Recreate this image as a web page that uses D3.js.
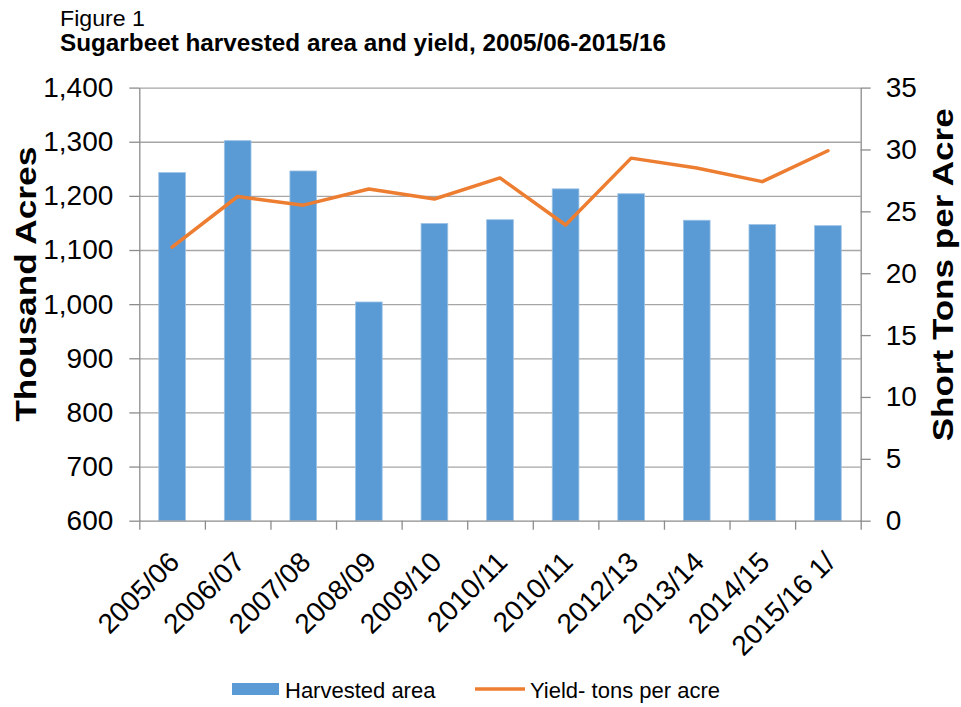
<!DOCTYPE html>
<html>
<head>
<meta charset="utf-8">
<script src="https://cdn.jsdelivr.net/npm/d3@7"></script>
<style>
  html, body { margin: 0; padding: 0; background: #fff; }
  svg { display: block; font-family: "Liberation Sans", Arial, sans-serif; }
</style>
</head>
<body>
<svg id="chart" width="961" height="707"></svg>
<script>
// ---- data ----
const categories = ["2005/06","2006/07","2007/08","2008/09","2009/10","2010/11","2010/11","2012/13","2013/14","2014/15","2015/16 1/"];
const harvestedArea = [1243, 1302, 1246, 1004, 1149, 1156, 1213, 1204, 1155, 1147, 1145];
const yieldTons = [22.1, 26.2, 25.5, 26.8, 26.0, 27.7, 23.9, 29.3, 28.5, 27.4, 29.9];
const leftTicks = [600, 700, 800, 900, 1000, 1100, 1200, 1300, 1400];
const rightTicks = [0, 5, 10, 15, 20, 25, 30, 35];
const figureLabel = "Figure 1";
const chartTitle = "Sugarbeet harvested area and yield, 2005/06-2015/16";
const leftTitle = "Thousand Acres";
const rightTitle = "Short Tons per Acre";
const seriesNames = ["Harvested area", "Yield- tons per acre"];

// ---- layout ----
const plot = { left: 139.3, right: 860.7, top: 87.6, bottom: 520.7 };
const barColor = "#5B9BD5", lineColor = "#ED7D31";
const gridColor = "#A6A6A6", axisColor = "#8C8C8C";
const tickFont = 28;

const svg = d3.select("#chart");

const n = categories.length;
const x = d3.scaleBand().domain(d3.range(n)).range([plot.left, plot.right]).padding(0);
const xEdges = d3.scaleLinear().domain([0, n]).range([plot.left, plot.right]);
const yL = d3.scaleLinear().domain([600, 1400]).range([plot.bottom, plot.top]);
const yR = d3.scaleLinear().domain([0, 35]).range([plot.bottom, plot.top]);
const barW = x.bandwidth() * 0.407;

// gridlines
svg.append("g")
  .attr("transform", `translate(${plot.left},0)`)
  .call(d3.axisLeft(yL).tickValues(leftTicks.slice(1)).tickSize(-(plot.right - plot.left)).tickFormat(""))
  .call(g => g.select(".domain").remove())
  .call(g => g.selectAll("line").attr("stroke", gridColor).attr("stroke-width", 1.3));

// bars
svg.append("g").selectAll("rect")
  .data(harvestedArea)
  .join("rect")
  .attr("x", (d, i) => x(i) + x.bandwidth() / 2 - barW / 2)
  .attr("width", barW)
  .attr("y", d => yL(d))
  .attr("height", d => yL(600) - yL(d))
  .attr("fill", barColor)
  .attr("stroke", "#9DC3E6")
  .attr("stroke-width", 0.8);

// left axis
const gL = svg.append("g")
  .attr("transform", `translate(${plot.left},0)`)
  .call(d3.axisLeft(yL).tickValues(leftTicks).tickSize(10).tickSizeOuter(0).tickPadding(16).tickFormat(d3.format(",")));
gL.select(".domain").attr("stroke", axisColor).attr("stroke-width", 1.3);
gL.selectAll(".tick line").attr("stroke", axisColor).attr("stroke-width", 1.3);
gL.selectAll(".tick text").attr("font-size", tickFont).attr("fill", "#000")
  .attr("font-family", "'Liberation Sans', Arial, sans-serif");

// right axis
const gR = svg.append("g")
  .attr("transform", `translate(${plot.right},0)`)
  .call(d3.axisRight(yR).tickValues(rightTicks).tickSize(10).tickSizeOuter(0).tickPadding(15));
gR.select(".domain").attr("stroke", axisColor).attr("stroke-width", 1.3);
gR.selectAll(".tick line").attr("stroke", axisColor).attr("stroke-width", 1.3);
gR.selectAll(".tick text").attr("font-size", tickFont).attr("fill", "#000")
  .attr("font-family", "'Liberation Sans', Arial, sans-serif");

// bottom axis (ticks at category boundaries)
const gB = svg.append("g")
  .attr("transform", `translate(0,${plot.bottom})`)
  .call(d3.axisBottom(xEdges).tickValues(d3.range(n + 1)).tickSize(9).tickSizeOuter(0).tickFormat(""));
gB.select(".domain").attr("stroke", axisColor).attr("stroke-width", 1.3);
gB.selectAll(".tick line").attr("stroke", axisColor).attr("stroke-width", 1.3);

// category labels
svg.append("g").selectAll("text")
  .data(categories)
  .join("text")
  .attr("transform", (d, i) => `translate(${x(i) + x.bandwidth() / 2 + 2},${plot.bottom + 36}) rotate(-45)`)
  .attr("text-anchor", "end")
  .attr("dy", "0.35em")
  .attr("font-size", tickFont)
  .attr("fill", "#000")
  .text(d => d);

// yield line
const line = d3.line()
  .x((d, i) => x(i) + x.bandwidth() / 2)
  .y(d => yR(d));
svg.append("path")
  .datum(yieldTons)
  .attr("d", line)
  .attr("fill", "none")
  .attr("stroke", lineColor)
  .attr("stroke-width", 3.5)
  .attr("stroke-linejoin", "round")
  .attr("stroke-linecap", "round");

// titles
svg.append("text").attr("x", 60).attr("y", 25.5).attr("font-size", 22)
  .attr("textLength", 85).attr("lengthAdjust", "spacingAndGlyphs")
  .attr("fill", "#000").text(figureLabel);
svg.append("text").attr("x", 60).attr("y", 51).attr("font-size", 23).attr("font-weight", "bold")
  .attr("textLength", 606).attr("lengthAdjust", "spacingAndGlyphs")
  .attr("fill", "#000").text(chartTitle);

svg.append("text")
  .attr("transform", `translate(35.5,${(146.7 + 421.7) / 2}) rotate(-90)`)
  .attr("text-anchor", "middle").attr("font-size", 29).attr("font-weight", "bold")
  .attr("textLength", 275).attr("lengthAdjust", "spacingAndGlyphs")
  .attr("fill", "#000").text(leftTitle);

svg.append("text")
  .attr("transform", `translate(953,${(108 + 441.7) / 2}) rotate(-90)`)
  .attr("text-anchor", "middle").attr("font-size", 29).attr("font-weight", "bold")
  .attr("textLength", 333).attr("lengthAdjust", "spacingAndGlyphs")
  .attr("fill", "#000").text(rightTitle);

// legend
const lg = svg.append("g");
lg.append("rect").attr("x", 232).attr("y", 683).attr("width", 47).attr("height", 12).attr("fill", barColor);
lg.append("text").attr("x", 285).attr("y", 698).attr("font-size", 22).attr("fill", "#000").text(seriesNames[0]);
lg.append("line").attr("x1", 475).attr("x2", 525).attr("y1", 689).attr("y2", 689)
  .attr("stroke", lineColor).attr("stroke-width", 3.5);
lg.append("text").attr("x", 530).attr("y", 698).attr("font-size", 22).attr("fill", "#000").text(seriesNames[1]);
</script>
</body>
</html>
